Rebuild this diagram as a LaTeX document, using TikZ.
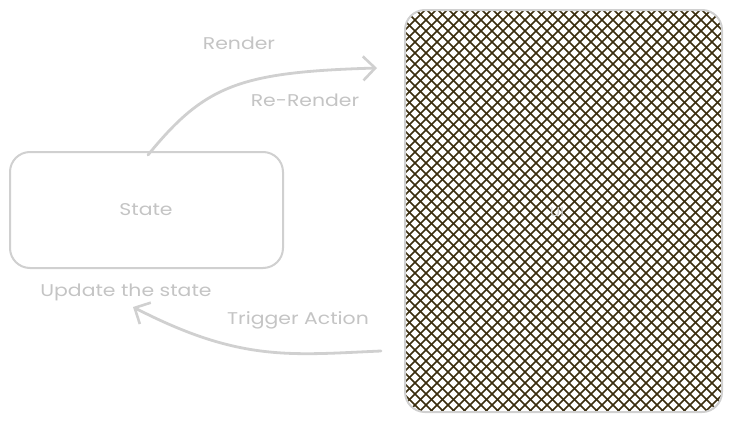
\documentclass[tikz,border=0pt]{standalone}
\usepackage{fontspec}
\setmainfont{Poppins}[FakeStretch=1.2]
\usetikzlibrary{arrows.meta}
\definecolor{sk}{HTML}{D0D0D0}
\definecolor{tx}{HTML}{C4C4C4}
\definecolor{hatch}{HTML}{3A2D0E}
\begin{document}
\begin{tikzpicture}[x=1pt,y=-1pt,
  box/.style={draw=sk, line width=2pt, rounded corners=20pt, inner sep=0pt},
  lbl/.style={text=tx, font=\fontsize{17}{20}\selectfont, inner sep=0pt},
  flow/.style={draw=sk, line width=2.8pt, line cap=round,
    -{Straight Barb[length=12pt,width=24pt,line width=2.6pt]}}]
\useasboundingbox (0,0) rectangle (731,423);
% UI box with cross-hatch
\begin{scope}
  \clip[rounded corners=20pt] (405,10) rectangle (722,412);
  \foreach \i in {-429,-418,...,330} {
    \draw[hatch, line width=1.5pt] (405+\i,10) -- ++(420,420);
    \draw[hatch, line width=1.5pt] (722-\i,10) -- ++(-420,420);
  }
\end{scope}
\node[box, minimum width=317pt, minimum height=402pt] (ui) at (563.5,211) {};
\node[lbl, text=sk, font=\fontsize{13}{15}\selectfont] (uit) at (557,212) {UI};
% State box
\node[box, minimum width=273pt, minimum height=116pt] (state) at (146.5,210) {};
\node[lbl] (statet) at (146,210) {State};
% labels
\node[lbl] (render) at (239,43) {Render};
\node[lbl] (rerender) at (305,100) {Re-Render};
\node[lbl] (update) at (126,292) {Update the state};
\node[lbl] (trigger) at (298,320) {Trigger Action};
% connectors
\coordinate (a1s) at ([xshift=1.5pt,yshift=-4pt]state.north);
\coordinate (a1e) at ([xshift=-27pt]ui.west |- 0,68);
\draw[flow] (a1s) .. controls (205,85) and (240,72) .. (a1e);
\coordinate (a2s) at ([xshift=-23pt]ui.west |- 0,351);
\coordinate (a2e) at (133,307);
\draw[flow] (a2s) .. controls (290,355) and (240,362) .. (a2e);
\end{tikzpicture}
\end{document}
